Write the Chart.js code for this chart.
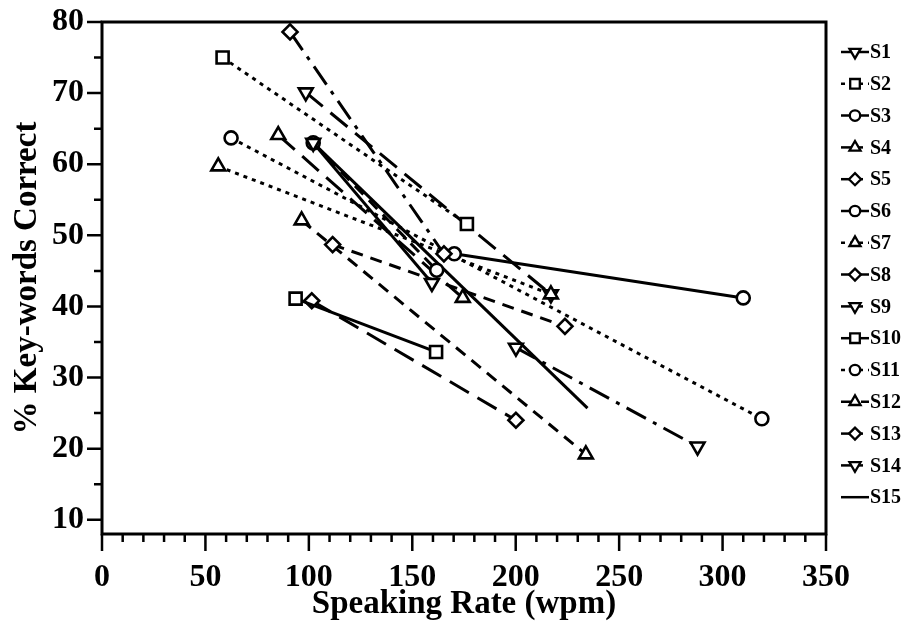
<!DOCTYPE html>
<html>
<head>
<meta charset="utf-8">
<script src="https://cdn.jsdelivr.net/npm/chart.js@4"></script>
<style>
html, body { margin: 0; padding: 0; background: #fff; }
#wrap { width: 907px; height: 624px; }
</style>
</head>
<body>
<div id="wrap"><canvas id="chart" width="907" height="624"></canvas></div>
<script>
// each subject was measured at two speaking rates
const subjects = ['S1','S2','S3','S4','S5','S6','S7','S8','S9','S10','S11','S12','S13','S14','S15']
const rateA  = [102.1, 58.3, 102.1, 85.2, 90.9, 170.3, 56.2, 111.5, 98.5, 93.6, 62.4, 96.5, 101.4, 200.1, 102.1]
const scoreA = [63.0, 75.0, 63.0, 64.1, 78.6, 47.4, 59.7, 48.7, 70.1, 41.1, 63.7, 52.1, 40.8, 34.2, 63.0]
const rateB  = [159.5, 176.4, 161.8, 174.4, 165.3, 310.0, 217.0, 223.8, 217.0, 161.5, 319.0, 233.9, 200.1, 287.9, 234.7]
const scoreB = [43.3, 51.6, 45.1, 41.2, 47.4, 41.2, 41.7, 37.2, 41.7, 33.6, 24.2, 19.2, 24.0, 20.3, 25.7]

const xTicks = [0, 50, 100, 150, 200, 250, 300, 350]
const yTicks = [10, 20, 30, 40, 50, 60, 70, 80]

// styles
const markers   = ['triangle','rect','circle','triangle','rectRot','circle','triangle','rectRot','triangle','rect','circle','triangle','rectRot','triangle', false]
const markerRot = [180,0,0,0,0,0,0,0,180,0,0,0,0,180,0]
const markerSize = {triangle: 8, rect: 8.5, circle: 6.5, rectRot: 7.5}
const lineKinds = ['solid','dotted','dashed','long','dashdot','solid','dotted','dashed','long','solid','dotted','dashed','long','dashdot','solid']
const dashes = {solid: [], dotted: [4, 5], dashed: [12, 8], long: [22, 10], dashdot: [22, 8, 4, 8]}

const serif = "'Liberation Serif', 'DejaVu Serif', serif"

const datasets = subjects.map(function(name, i){
  return {
    label: name,
    data: [{x: rateA[i], y: scoreA[i]}, {x: rateB[i], y: scoreB[i]}],
    borderColor: '#000',
    borderWidth: 3,
    borderDash: dashes[lineKinds[i]],
    borderCapStyle: 'butt',
    pointStyle: markers[i] || 'circle',
    pointRotation: markerRot[i],
    pointRadius: markers[i] ? markerSize[markers[i]] : 0,
    pointHoverRadius: markers[i] ? markerSize[markers[i]] : 0,
    pointBackgroundColor: '#fff',
    pointBorderColor: '#000',
    pointBorderWidth: 2.6,
    showLine: true,
    fill: false,
    tension: 0
  }
})

const frameTicks = {
  id: 'frameTicks',
  afterDraw: (chart) => {
    const {ctx, chartArea: a, scales: {x, y}} = chart
    ctx.save()
    ctx.strokeStyle = '#000'
    ctx.lineWidth = 3
    ctx.strokeRect(a.left, a.top, a.right - a.left, a.bottom - a.top)
    ctx.lineWidth = 2.5
    ctx.beginPath()
    for (let v = 0; v <= 350; v += 10) {
      const px = x.getPixelForValue(v)
      const len = v % 50 === 0 ? 17 : 8
      ctx.moveTo(px, a.bottom)
      ctx.lineTo(px, a.bottom + len)
    }
    for (let v = 10; v <= 80; v += 5) {
      const py = y.getPixelForValue(v)
      const len = v % 10 === 0 ? 15 : 8
      ctx.moveTo(a.left - len, py)
      ctx.lineTo(a.left, py)
    }
    ctx.stroke()
    ctx.restore()
  }
}

const sideLegend = {
  id: 'sideLegend',
  afterDraw: (chart) => {
    const ctx = chart.ctx
    subjects.forEach(function(name, i){
      const ly = 52 + i * 31.8
      ctx.save()
      ctx.strokeStyle = '#000'
      ctx.fillStyle = '#fff'
      ctx.lineWidth = 2.5
      ctx.setLineDash(dashes[lineKinds[i]])
      ctx.beginPath()
      ctx.moveTo(841, ly)
      ctx.lineTo(869, ly)
      ctx.stroke()
      ctx.setLineDash([])
      if (markers[i]) {
        ctx.lineWidth = 2.3
        Chart.helpers.drawPoint(ctx, {pointStyle: markers[i], rotation: markerRot[i], radius: markerSize[markers[i]] * 0.8, borderWidth: 2.3}, 855, ly)
      }
      ctx.fillStyle = '#000'
      ctx.font = 'bold 20px ' + serif
      ctx.textAlign = 'left'
      ctx.textBaseline = 'middle'
      ctx.fillText(name, 870, ly + 1)
      ctx.restore()
    })
  }
}

const ctx = document.getElementById('chart').getContext('2d')

const myChart = new Chart(ctx, {
  type: 'line',
  data: {datasets},
  options: {
    responsive: false,
    animation: false,
    events: [],
    layout: {padding: {top: 22, right: 81, left: 0, bottom: 0}},
    plugins: {
      legend: {display: false},
      tooltip: {enabled: false}
    },
    scales: {
      x: {
        type: 'linear',
        min: 0,
        max: 350,
        afterBuildTicks: (scale) => { scale.ticks = xTicks.map(v => ({value: v})) },
        afterFit: (scale) => {
          scale.height = 90
          scale.paddingLeft = 0
          scale.paddingRight = 0
        },
        grid: {drawOnChartArea: false, drawTicks: false},
        border: {display: false},
        ticks: {color: '#000', padding: 25, maxRotation: 0, font: {family: serif, size: 32, weight: 'bold'}},
        title: {display: true, text: 'Speaking Rate (wpm)', color: '#000', padding: {top: 0, bottom: 0}, font: {family: serif, size: 33, weight: 'bold'}}
      },
      y: {
        type: 'linear',
        min: 8,
        max: 80,
        afterBuildTicks: (scale) => { scale.ticks = yTicks.map(v => ({value: v})) },
        afterFit: (scale) => {
          scale.width = 102
          scale.paddingTop = 0
          scale.paddingBottom = 0
        },
        grid: {drawOnChartArea: false, drawTicks: false},
        border: {display: false},
        ticks: {color: '#000', padding: 18, font: {family: serif, size: 32, weight: 'bold'}},
        title: {display: true, text: '% Key-words Correct', color: '#000', padding: {top: 8, bottom: 0}, font: {family: serif, size: 33, weight: 'bold'}}
      }
    }
  },
  plugins: [frameTicks, sideLegend]
})
</script>
</body>
</html>
